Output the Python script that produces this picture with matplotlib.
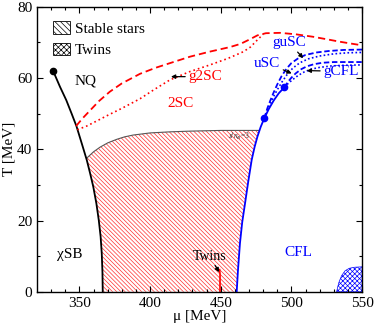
import numpy as np
import matplotlib
matplotlib.use("Agg")
import matplotlib.pyplot as plt
from matplotlib.patches import Patch

plt.rcParams['font.family'] = ['Liberation Serif', 'DejaVu Serif']
plt.rcParams['mathtext.fontset'] = 'stix'
plt.rcParams['hatch.linewidth'] = 0.5

# ---- data (mu [MeV], T [MeV]) ----
nq_mu = [331.5, 336.2, 340.7, 344.5, 347.9, 352.0, 355.2, 357.6, 359.8, 362.0, 363.7, 365.0, 365.8, 366.3, 366.5]
nq_T = [61.9, 57.6, 53.8, 50.0, 46.5, 41.2, 37.0, 33.2, 29.5, 24.8, 20.1, 15.5, 10.8, 5.5, 0.0]

sn3_mu = [355.4, 360.0, 364.6, 370.0, 376.4, 382.0, 388.0, 400.0, 414.0, 428.0, 450.0, 470.0, 477.3]
sn3_T = [37.6, 39.3, 40.6, 41.8, 42.8, 43.5, 44.0, 44.6, 44.9, 45.1, 45.3, 45.3, 45.3]

cfl_mu = [461.3, 462.2, 463.6, 465.2, 467.2, 469.5, 471.9, 474.0, 476.0, 478.3, 480.8, 484.0, 487.5, 491.0, 495.0]
cfl_T = [0.0, 6.0, 13.6, 19.5, 24.8, 31.0, 37.0, 40.7, 43.6, 46.3, 48.7, 51.3, 53.7, 55.7, 57.4]

crit_nq = (331.5, 61.9)
crit_cfl = [(480.8, 48.7), (495.0, 57.4)]

r2sc_mu = [347.6, 352.0, 357.5, 364.0, 371.6, 380.0, 392.9, 404.0, 414.1, 428.2, 442.0, 456.5, 464.0,
           470.7, 476.0, 482.0, 492.0, 503.0, 515.3, 525.0, 534.4, 542.0, 550.0]
r2sc_T = [46.5, 48.6, 50.9, 53.6, 56.2, 58.5, 61.2, 62.9, 64.2, 66.0, 67.4, 68.7, 69.6,
          70.9, 72.0, 72.6, 72.7, 72.3, 71.6, 70.9, 70.2, 69.7, 69.2]

g2sc_mu = [348.5, 355.0, 362.0, 369.3, 380.0, 392.9, 403.0, 414.1, 428.0, 442.4, 455.0, 466.0, 471.0, 475.4, 480.0]
g2sc_T = [45.5, 46.5, 47.9, 49.4, 51.5, 54.2, 56.8, 59.5, 61.8, 63.7, 65.5, 67.4, 68.7, 70.5, 72.3]

usc_mu = [480.8, 483.0, 485.0, 487.5, 490.0, 493.0, 496.5, 500.0, 505.0, 510.0, 518.0, 526.4, 537.0, 550.0]
usc_T = [48.7, 51.5, 53.6, 56.0, 58.2, 60.5, 62.6, 64.2, 65.6, 66.5, 67.2, 67.6, 67.9, 68.0]

gusc_mu = [480.8, 484.0, 487.0, 490.0, 493.5, 497.0, 501.0, 506.0, 512.0, 520.0, 530.0, 540.0, 550.0]
gusc_T = [48.7, 51.8, 54.5, 56.7, 59.0, 61.0, 62.8, 64.3, 65.4, 66.2, 66.8, 67.1, 67.2]

ucfl_mu = [495.0, 497.5, 500.0, 503.0, 507.0, 511.0, 516.0, 522.0, 530.0, 540.0, 550.0]
ucfl_T = [57.4, 58.9, 60.1, 61.3, 62.5, 63.3, 63.9, 64.3, 64.5, 64.5, 64.5]

gcfl_mu = [495.0, 498.0, 501.0, 505.0, 509.0, 514.0, 520.0, 528.0, 538.0, 550.0]
gcfl_T = [57.4, 58.6, 59.6, 60.8, 61.7, 62.5, 63.0, 63.4, 63.6, 63.7]

twins_mu = [532.0, 533.5, 535.5, 538.0, 541.0, 545.0, 550.0]
twins_T = [0.0, 2.5, 4.5, 5.9, 6.6, 6.9, 7.0]

twinline_mu = [449.5, 449.5, 449.2]
twinline_T = [0.0, 5.0, 6.2]

xticks = [350, 400, 450, 500, 550]
yticks = [0, 20, 40, 60, 80]

# ---- figure ----
fig = plt.figure(figsize=(3.74, 3.26), dpi=100)
ax = fig.add_axes([0.099, 0.105, 0.869, 0.874])

# stable-star region polygon
nq_mu_a, nq_T_a = np.array(nq_mu), np.array(nq_T)
cf_mu_a, cf_T_a = np.array(cfl_mu), np.array(cfl_T)
mask_l = nq_T_a < sn3_T[0]
left_mu, left_T = nq_mu_a[mask_l][::-1], nq_T_a[mask_l][::-1]
mask_r = cf_T_a < sn3_T[-1]
right_mu, right_T = cf_mu_a[mask_r][::-1], cf_T_a[mask_r][::-1]
poly_mu = np.concatenate([left_mu, sn3_mu, right_mu])
poly_T = np.concatenate([left_T, sn3_T, right_T])
ax.fill(poly_mu, poly_T, facecolor='none', edgecolor='#ff3030', hatch='\\' * 8, linewidth=0)
ax.plot(sn3_mu, sn3_T, color='#555555', lw=0.8)

# twins region
ax.fill_between(twins_mu, 0, twins_T, facecolor='none', edgecolor='blue',
                hatch='x' * 7, linewidth=0.5)
ax.plot(twinline_mu, twinline_T, color='red', lw=1.2)

# lines
ax.plot(nq_mu, nq_T, color='black', lw=1.3)
ax.plot(*crit_nq, 'o', color='black', ms=4.5)
ax.plot(cfl_mu, cfl_T, color='blue', lw=1.3)
for p in crit_cfl:
    ax.plot(*p, 'o', color='blue', ms=4.5)

ax.plot(r2sc_mu, r2sc_T, color='red', lw=1.3, dashes=(4.0, 2.2))
ax.plot(g2sc_mu, g2sc_T, color='red', lw=1.2, dashes=(1.0, 1.8))
ax.plot(usc_mu, usc_T, color='blue', lw=1.3, dashes=(3.0, 1.5))
ax.plot(gusc_mu, gusc_T, color='blue', lw=1.2, dashes=(1.0, 1.4))
ax.plot(ucfl_mu, ucfl_T, color='blue', lw=1.3, dashes=(3.0, 1.5))
ax.plot(gcfl_mu, gcfl_T, color='blue', lw=1.2, dashes=(1.0, 1.4))

# labels
fs = 11
ax.text(354.3, 59.2, 'NQ', fontsize=fs, ha='center', va='center')
ax.text(421.2, 53.0, '2SC', fontsize=fs, ha='center', va='center', color='red')
ax.text(343.3, 10.6, 'χSB', fontsize=fs, ha='center', va='center')
ax.text(505.0, 10.9, 'CFL', fontsize=fs, ha='center', va='center', color='blue')
ax.text(462.9, 43.6, '$s/n_B$=3', fontsize=5.5, ha='center', va='center', color='#333333')

arr = dict(arrowstyle='-|>', color='black', lw=0.9, mutation_scale=6, shrinkA=0, shrinkB=0)
ax.annotate('g2SC', xy=(414.8, 60.4), xytext=(426.8, 60.4), fontsize=fs, color='red',
            ha='left', va='center', arrowprops=arr)
ax.annotate('guSC', xy=(508.4, 65.6), xytext=(498.3, 69.9), fontsize=fs, color='blue',
            ha='center', va='center', arrowprops=arr)
ax.annotate('uSC', xy=(500.2, 61.3), xytext=(483.0, 64.2), fontsize=fs, color='blue',
            ha='center', va='center', arrowprops=arr)
ax.annotate('gCFL', xy=(510.8, 62.1), xytext=(522.3, 61.9), fontsize=fs, color='blue',
            ha='left', va='center', arrowprops=arr)
ax.annotate('Twins', xy=(448.9, 5.5), xytext=(442.0, 10.0), fontsize=10, color='black',
            ha='center', va='center', arrowprops=arr)

# legend
handles = [Patch(facecolor='white', edgecolor='black', hatch='\\' * 6, lw=0.6, label='Stable stars'),
           Patch(facecolor='white', edgecolor='black', hatch='x' * 6, lw=0.6, label='Twins')]
ax.legend(handles=handles, loc='upper left', bbox_to_anchor=(0.05, 0.95), frameon=False,
          borderpad=0, borderaxespad=0, handlelength=1.1, handleheight=0.9,
          handletextpad=0.3, labelspacing=0.45, fontsize=fs)

ax.set_xlim(320, 550)
ax.set_ylim(0, 80)
ax.set_xticks(xticks)
ax.set_yticks(yticks)
ax.set_xticks(np.arange(330, 551, 10), minor=True)
ax.set_yticks(np.arange(0, 81, 10), minor=True)
ax.tick_params(which='both', direction='in', top=True, right=True, labelsize=fs)
ax.tick_params(which='major', length=4, width=0.8)
ax.tick_params(which='minor', length=2.5, width=0.8)
for s in ax.spines.values():
    s.set_linewidth(1.0)
ax.set_xlabel('μ [MeV]', fontsize=fs, labelpad=0)
ax.set_ylabel('T [MeV]', fontsize=fs, labelpad=1)

fig.savefig('out.png', dpi=100)
